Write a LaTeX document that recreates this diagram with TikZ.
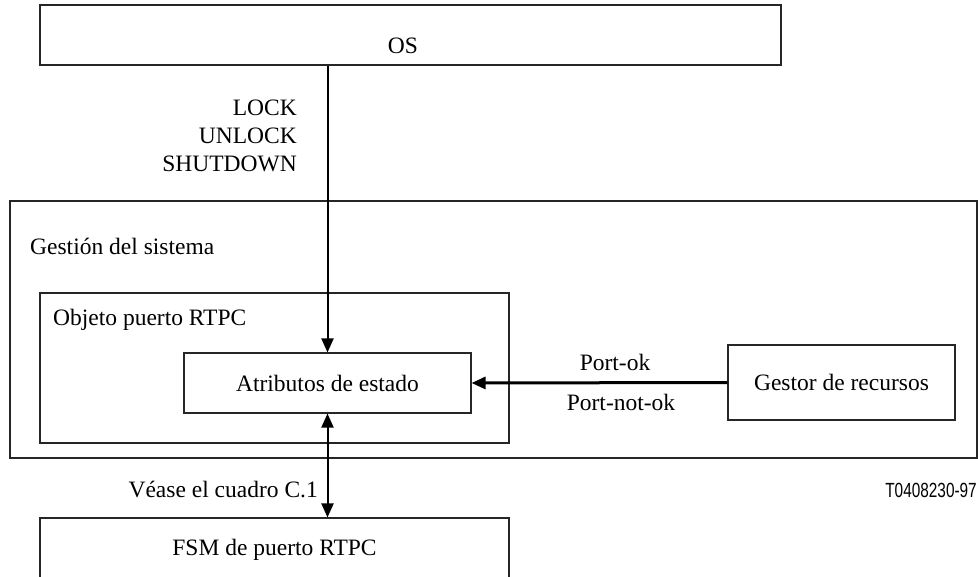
\documentclass[tikz,border=0pt]{standalone}
\usepackage{fontspec}
\setmainfont{Liberation Serif}
\newfontfamily\codefont[FakeStretch=0.75]{Liberation Sans}
\usetikzlibrary{positioning, arrows.meta}

\begin{document}
\begin{tikzpicture}[
  x=1pt, y=-1pt,
  >={Triangle[length=14pt, width=12pt]},
  every node/.style={font=\fontsize{23.5}{28}\selectfont},
  box/.style={draw=black!85, line width=1.1pt, inner sep=0pt},
  txt/.style={inner sep=0pt},
  link/.style={line width=2pt}
]
\useasboundingbox (0,0) rectangle (978,577);

% Operating system on top
\node[box, minimum width=741pt, minimum height=60pt] (os) at (410.5,35) {};
\node[txt, anchor=base] (oslbl) at (403,54) {OS};
\node[txt, align=right, anchor=east] (cmds) at (297,136) {LOCK\\UNLOCK\\SHUTDOWN};

% System management block
\node[box, minimum width=967pt, minimum height=257pt] (sys) at (493.5,329.5) {};
\node[txt, anchor=base west] (syslbl) at (30,255) {Gestión del sistema};

\node[box, minimum width=469pt, minimum height=150pt] (obj) at (274.5,368) {};
\node[txt, anchor=base west] (objlbl) at (53,326) {Objeto puerto RTPC};

\node[box, minimum width=287pt, minimum height=60pt] (atr) at (327.5,383) {Atributos de estado};
\node[box, minimum width=227pt, minimum height=75pt] (gestor) at (841.5,382.5) {Gestor de recursos};

\node[txt, anchor=base] (portok) at (615,371) {Port-ok};
\node[txt, anchor=base] (portnok) at (621,410) {Port-not-ok};

% Port state machine below
\node[box, minimum width=469pt, minimum height=64pt] (fsm) at (274.5,550) {FSM de puerto RTPC};
\node[txt, anchor=base east] (cuadro) at (318,497) {Véase el cuadro C.1};

\node[txt, anchor=base east, font=\codefont\fontsize{20.5}{24}\selectfont] (figid) at (977,497) {T0408230-97};

% Connectors
\draw[link, ->] (atr.north |- os.south) -- (atr.north);
\draw[link, ->, line width=3pt] (gestor.west) -- (atr.east);
\draw[link, <->] (atr.south) -- (atr.south |- fsm.north);

\end{tikzpicture}
\end{document}
